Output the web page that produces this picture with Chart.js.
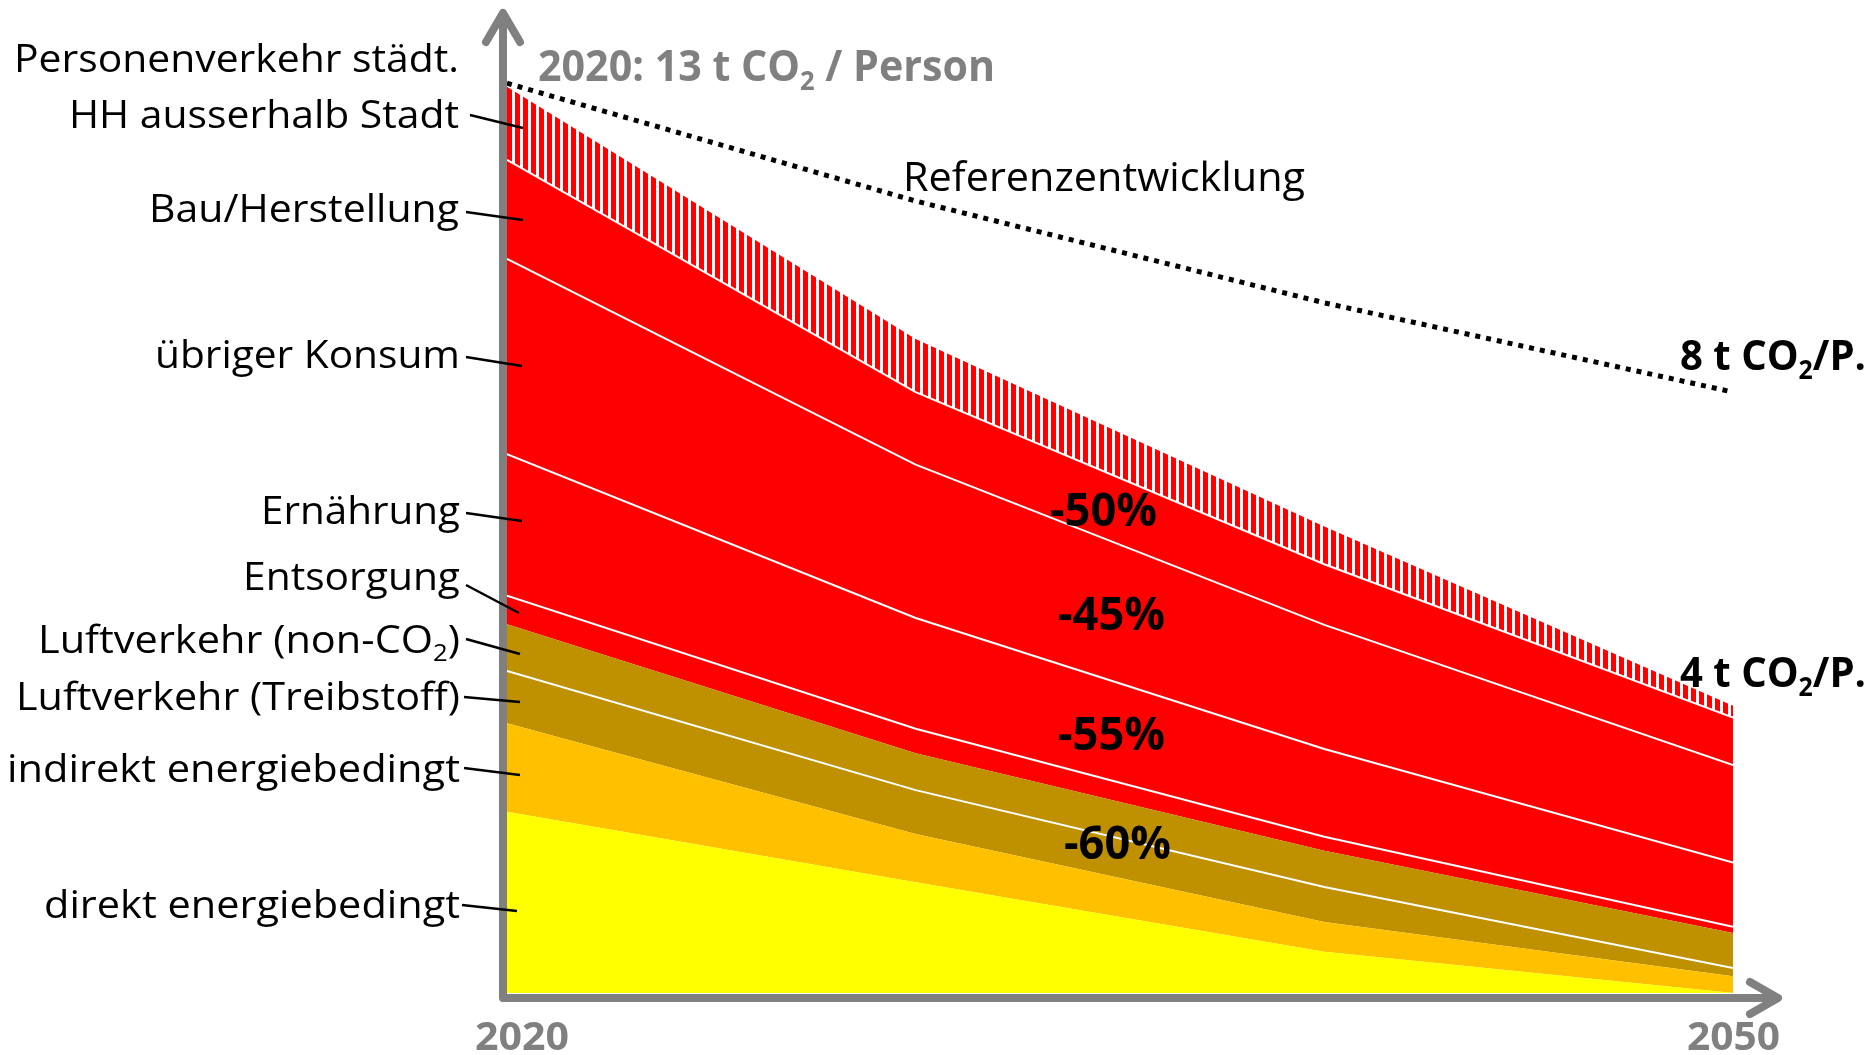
<!DOCTYPE html>
<html lang="de">
<head>
<meta charset="UTF-8">
<title>CO2 pro Person 2020-2050</title>
<script src="https://cdn.jsdelivr.net/npm/chart.js"></script>
<style>
  body { margin: 0; background: #fff; }
  #wrap { width: 1870px; height: 1055px; }
</style>
</head>
<body>
<div id="wrap"><canvas id="co2Chart" width="1870" height="1055"></canvas></div>
<script>
// values in t CO2 per person
const years = [2020, 2030, 2040, 2050];
const direkt = [2.60, 1.59, 0.59, 0.0];
const indirekt = [1.27, 0.69, 0.43, 0.24];
const luftTreibstoff = [0.75, 0.63, 0.50, 0.12];
const luftNonCO2 = [0.67, 0.53, 0.52, 0.50];
const entsorgung = [0.41, 0.35, 0.20, 0.09];
const ernaehrung = [2.03, 1.59, 1.26, 0.92];
const uebrigerKonsum = [2.80, 2.20, 1.78, 1.40];
const bauHerstellung = [1.42, 1.04, 0.87, 0.68];
const hhAusserhalb = [1.05, 0.76, 0.54, 0.17];
const referenz = [13.05, 11.36, 9.90, 8.62];

const GRAY = '#808080';

// red with white vertical stripes
function stripes() {
    const c = document.createElement('canvas');
    c.width = 8; c.height = 8;
    const g = c.getContext('2d');
    g.fillStyle = '#FF0000';
    g.fillRect(0, 0, 8, 8);
    g.fillStyle = '#FFFFFF';
    g.fillRect(0, 0, 3, 8);
    return g.createPattern(c, 'repeat');
}

const pts = arr => arr.map((v, i) => ({ x: years[i], y: v }));

function layer(label, data, color, white, first) {
    return {
        label: label,
        data: pts(data),
        backgroundColor: color,
        borderColor: white ? '#FFFFFF' : 'rgba(0,0,0,0)',
        borderWidth: white ? 2 : 0,
        fill: first ? 'origin' : '-1',
        pointRadius: 0,
        tension: 0,
        stack: 'main'
    };
}

// draw text with optional subscript parts, stretched to a given width
function fitText(ctx, parts, x, y, o) {
    const subSize = o.size * 0.62;
    const font = s => (o.bold ? 'bold ' : '') + s + 'px "Open Sans"';
    let w = 0;
    parts.forEach(p => { ctx.font = font(p[1] ? subSize : o.size); w += ctx.measureText(p[0]).width; });
    const sx = o.width ? o.width / w : 1;
    const left = o.align === 'right' ? x - w * sx : x;
    ctx.save();
    ctx.fillStyle = o.color || '#000';
    ctx.textAlign = 'left';
    ctx.textBaseline = 'alphabetic';
    ctx.translate(left, y);
    ctx.scale(sx, 1);
    let cx = 0;
    parts.forEach(p => {
        ctx.font = font(p[1] ? subSize : o.size);
        ctx.fillText(p[0], cx, p[1] ? o.size * 0.22 : 0);
        cx += ctx.measureText(p[0]).width;
    });
    ctx.restore();
}

// left labels: text parts, right edge, baseline, width, leader line
const sideLabels = [
    [[['Personenverkehr städt.']], 459, 72, 445, null],
    [[['HH ausserhalb Stadt']], 459, 128, 390, [470, 115, 523, 128]],
    [[['Bau/Herstellung']], 459, 222, 310, [466, 212, 523, 220]],
    [[['übriger Konsum']], 460, 368, 305, [466, 357, 522, 366]],
    [[['Ernährung']], 460, 524, 199, [466, 513, 522, 521]],
    [[['Entsorgung']], 460, 590, 217, [466, 585, 519, 613]],
    [[['Luftverkehr (non-CO'], ['2', 1], [')']], 460, 653, 422, [466, 639, 520, 654]],
    [[['Luftverkehr (Treibstoff)']], 460, 710, 444, [464, 697, 520, 702]],
    [[['indirekt energiebedingt']], 460, 782, 453, [464, 768, 520, 775]],
    [[['direkt energiebedingt']], 460, 918, 416, [462, 905, 517, 911]]
];

const decorations = {
    id: 'decorations',
    afterDraw(chart) {
        const ctx = chart.ctx;
        ctx.save();
        // axes with arrow heads
        ctx.strokeStyle = GRAY;
        ctx.lineWidth = 8;
        ctx.lineCap = 'round';
        ctx.lineJoin = 'round';
        ctx.beginPath();
        ctx.moveTo(503, 998); ctx.lineTo(503, 14);
        ctx.moveTo(486, 42); ctx.lineTo(503, 13); ctx.lineTo(520, 42);
        ctx.moveTo(503, 998); ctx.lineTo(1776, 998);
        ctx.moveTo(1750, 982); ctx.lineTo(1778, 998); ctx.lineTo(1750, 1014);
        ctx.stroke();

        // leader lines
        ctx.strokeStyle = '#000';
        ctx.lineWidth = 2.5;
        ctx.lineCap = 'butt';
        sideLabels.forEach(l => {
            if (!l[4]) return;
            ctx.beginPath();
            ctx.moveTo(l[4][0], l[4][1]);
            ctx.lineTo(l[4][2], l[4][3]);
            ctx.stroke();
        });
        ctx.restore();

        sideLabels.forEach(l => fitText(ctx, l[0], l[1], l[2], { size: 38, width: l[3], align: 'right' }));

        fitText(ctx, [['2020: 13 t CO'], ['2', 1], [' / Person']], 538, 81, { size: 43, bold: true, color: GRAY, width: 457 });
        fitText(ctx, [['Referenzentwicklung']], 903, 191, { size: 40, width: 402 });
        fitText(ctx, [['8 t CO'], ['2', 1], ['/P.']], 1680, 370, { size: 42, bold: true, width: 186 });
        fitText(ctx, [['4 t CO'], ['2', 1], ['/P.']], 1680, 687, { size: 42, bold: true, width: 186 });
        fitText(ctx, [['-50%']], 1050, 526, { size: 46, bold: true, width: 107 });
        fitText(ctx, [['-45%']], 1058, 630, { size: 46, bold: true, width: 107 });
        fitText(ctx, [['-55%']], 1058, 750, { size: 46, bold: true, width: 107 });
        fitText(ctx, [['-60%']], 1064, 859, { size: 46, bold: true, width: 107 });
        fitText(ctx, [['2020']], 475, 1050, { size: 39, bold: true, color: GRAY, width: 94 });
        fitText(ctx, [['2050']], 1687, 1050, { size: 39, bold: true, color: GRAY, width: 93 });
    }
};

const ctx = document.getElementById('co2Chart').getContext('2d');

new Chart(ctx, {
    type: 'line',
    data: {
        datasets: [
            layer('direkt energiebedingt', direkt, '#FFFF00', false, true),
            layer('indirekt energiebedingt', indirekt, '#FFC000', false),
            layer('Luftverkehr (Treibstoff)', luftTreibstoff, '#BF9000', true),
            layer('Luftverkehr (non-CO2)', luftNonCO2, '#BF9000', false),
            layer('Entsorgung', entsorgung, '#FF0000', true),
            layer('Ernährung', ernaehrung, '#FF0000', true),
            layer('übriger Konsum', uebrigerKonsum, '#FF0000', true),
            layer('Bau/Herstellung', bauHerstellung, '#FF0000', true),
            layer('HH ausserhalb Stadt', hhAusserhalb, stripes(), false),
            {
                label: 'Referenzentwicklung',
                data: pts(referenz),
                borderColor: '#000',
                borderWidth: 5,
                borderDash: [5, 6],
                borderCapStyle: 'butt',
                fill: false,
                pointRadius: 0,
                tension: 0,
                stack: 'ref'
            }
        ]
    },
    options: {
        responsive: false,
        devicePixelRatio: 1,
        animation: false,
        layout: { padding: { left: 507, right: 137, top: 17, bottom: 62 } },
        plugins: {
            legend: { display: false },
            tooltip: { enabled: false },
            title: { display: false }
        },
        scales: {
            x: { type: 'linear', min: 2020, max: 2050, display: false },
            y: { min: 0, max: 14, stacked: true, display: false }
        }
    },
    plugins: [decorations]
});
</script>
</body>
</html>
